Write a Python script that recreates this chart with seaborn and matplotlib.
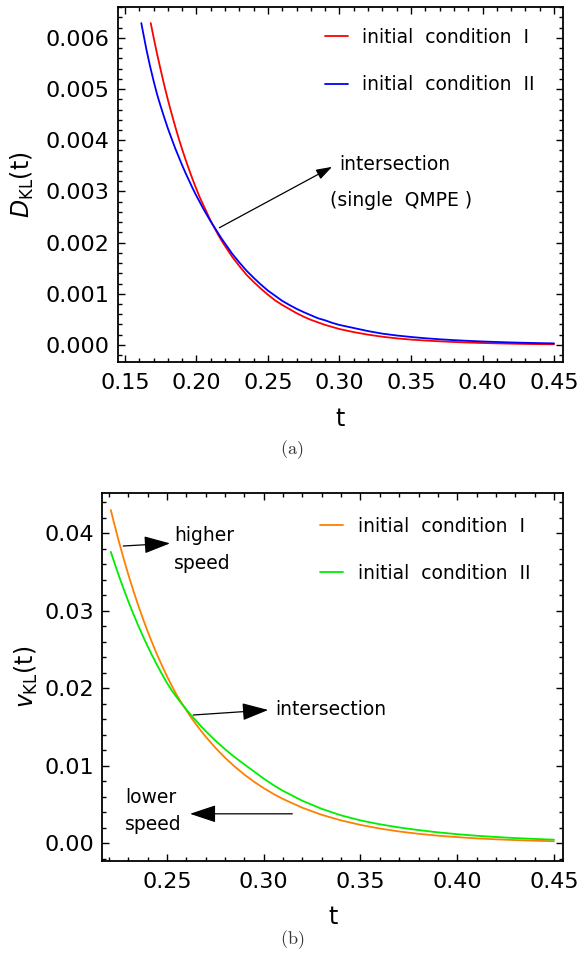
import matplotlib
matplotlib.use("Agg")
import matplotlib.pyplot as plt
import seaborn as sns
import pandas as pd
from matplotlib.ticker import MultipleLocator

# --- dati ---
# pannello (a): D_KL(t)
t_red = [0.168, 0.170, 0.1725, 0.175, 0.1775, 0.180, 0.1825, 0.185, 0.1875, 0.190,
         0.1925, 0.195, 0.1975, 0.200, 0.2025, 0.205, 0.2075, 0.210, 0.2125, 0.215,
         0.2175, 0.220, 0.225, 0.230, 0.235, 0.240, 0.245, 0.250, 0.255, 0.260,
         0.265, 0.270, 0.275, 0.280, 0.285, 0.290, 0.295, 0.300, 0.310, 0.320,
         0.330, 0.340, 0.350, 0.360, 0.370, 0.380, 0.390, 0.400, 0.410, 0.420,
         0.430, 0.440, 0.450]
d_red = [0.00629, 0.00601, 0.00568, 0.00537, 0.00507, 0.00479, 0.00453, 0.00428, 0.00404, 0.00382,
         0.00361, 0.00341, 0.00322, 0.00304, 0.00287, 0.00272, 0.00257, 0.00242, 0.00229, 0.00216,
         0.00204, 0.00193, 0.00172, 0.00154, 0.00137, 0.00123, 0.00110, 0.00098, 0.00087, 0.00078,
         0.00070, 0.00062, 0.00055, 0.00049, 0.00044, 0.00039, 0.00035, 0.00031, 0.00025, 0.00020,
         0.00016, 0.000128, 0.000104, 0.000085, 0.000070, 0.000057, 0.000046, 0.000037, 0.000030, 0.000024,
         0.000019, 0.000015, 0.000012]

t_blue = [0.1614, 0.1625, 0.165, 0.1675, 0.170, 0.1725, 0.175, 0.1775, 0.180, 0.1825,
          0.185, 0.1875, 0.190, 0.1925, 0.195, 0.1975, 0.200, 0.2025, 0.205, 0.2075,
          0.210, 0.2125, 0.215, 0.2175, 0.220, 0.225, 0.230, 0.235, 0.240, 0.245,
          0.250, 0.255, 0.260, 0.265, 0.270, 0.275, 0.280, 0.285, 0.290, 0.295,
          0.300, 0.310, 0.320, 0.330, 0.340, 0.350, 0.360, 0.370, 0.380, 0.390,
          0.400, 0.410, 0.420, 0.430, 0.440, 0.450]
d_blue = [0.00629, 0.00613, 0.00577, 0.00545, 0.00516, 0.00489, 0.00466, 0.00444, 0.00423, 0.00404,
          0.00385, 0.00368, 0.00351, 0.00335, 0.00320, 0.00305, 0.00291, 0.00278, 0.00265, 0.00253,
          0.00241, 0.00230, 0.00219, 0.00208, 0.00198, 0.00178, 0.00161, 0.00145, 0.00131, 0.00118,
          0.00106, 0.00096, 0.00086, 0.00078, 0.000705, 0.00064, 0.00058, 0.00052, 0.00048, 0.00043,
          0.00039, 0.00033, 0.00027, 0.00022, 0.000184, 0.000155, 0.000130, 0.000110, 0.000093, 0.000079,
          0.000067, 0.000057, 0.000048, 0.000041, 0.000035, 0.000030]

# pannello (b): v_KL(t)
t_v = [0.221, 0.2225, 0.225, 0.2275, 0.230, 0.2325, 0.235, 0.2375, 0.240, 0.2425,
       0.245, 0.2475, 0.250, 0.2525, 0.255, 0.2575, 0.260, 0.2625, 0.265, 0.2675,
       0.270, 0.275, 0.280, 0.285, 0.290, 0.295, 0.300, 0.305, 0.310, 0.320,
       0.330, 0.340, 0.350, 0.360, 0.370, 0.380, 0.390, 0.400, 0.410, 0.420,
       0.430, 0.440, 0.450]
v_orange = [0.0430, 0.04149, 0.03910, 0.03684, 0.03471, 0.03271, 0.03082, 0.02904, 0.02736, 0.02578,
            0.02429, 0.02289, 0.02157, 0.02032, 0.01915, 0.01812, 0.01716, 0.01623, 0.01536, 0.01454,
            0.01376, 0.01233, 0.01104, 0.00990, 0.00886, 0.00794, 0.00711, 0.00637, 0.00571, 0.00458,
            0.00367, 0.00295, 0.00237, 0.00190, 0.00152, 0.00122, 0.00098, 0.00079, 0.00063, 0.00051,
            0.00041, 0.00033, 0.00026]
v_green = [0.03760, 0.03646, 0.03463, 0.03290, 0.03124, 0.02968, 0.02819, 0.02678, 0.02543, 0.02416,
           0.02295, 0.02180, 0.02070, 0.01971, 0.01886, 0.01805, 0.01727, 0.01653, 0.01582, 0.01513,
           0.01448, 0.01326, 0.01214, 0.01111, 0.01018, 0.00926, 0.00834, 0.00751, 0.00676, 0.00548,
           0.00444, 0.00360, 0.00295, 0.00245, 0.00204, 0.00170, 0.00141, 0.00117, 0.00097, 0.00081,
           0.00067, 0.00056, 0.00046]

labels = ["initial  condition  I", "initial  condition  II"]

sns.set_theme(style="ticks")
plt.rcParams["font.family"] = ["DejaVu Sans"]
plt.rcParams["mathtext.fontset"] = "dejavusans"
plt.rcParams["text.color"] = "black"
plt.rcParams["axes.labelcolor"] = "black"
plt.rcParams["xtick.color"] = "black"
plt.rcParams["ytick.color"] = "black"

W, H = 580, 965
fig = plt.figure(figsize=(W / 100, H / 100), dpi=100)


def ax_rect(left, top, right, bottom):
    return [left / W, 1 - bottom / H, (right - left) / W, (bottom - top) / H]


ax1 = fig.add_axes(ax_rect(117.7, 6.7, 563.3, 362.3))
ax2 = fig.add_axes(ax_rect(102.3, 493.3, 563.3, 860.7))

df_a = pd.concat([
    pd.DataFrame({"t": t_red, "val": d_red, "cond": labels[0]}),
    pd.DataFrame({"t": t_blue, "val": d_blue, "cond": labels[1]}),
])
df_b = pd.concat([
    pd.DataFrame({"t": t_v, "val": v_orange, "cond": labels[0]}),
    pd.DataFrame({"t": t_v, "val": v_green, "cond": labels[1]}),
])

sns.lineplot(data=df_a, x="t", y="val", hue="cond", palette=["#ff0000", "#0000ff"],
             linewidth=1.3, sort=False, ax=ax1)
sns.lineplot(data=df_b, x="t", y="val", hue="cond", palette=["#ff8000", "#00ee00"],
             linewidth=1.3, sort=False, ax=ax2)

for ax in (ax1, ax2):
    ax.tick_params(which="both", direction="in", top=True, right=True, labelsize=16, width=1.0,
                   color="black")
    ax.tick_params(which="major", length=5)
    ax.tick_params(which="minor", length=3)
    ax.tick_params(axis="x", pad=8)
    ax.tick_params(axis="y", pad=6)
    for s in ax.spines.values():
        s.set_linewidth(1.3)
        s.set_color("black")

ax1.set_xlim(0.1449, 0.4565)
ax1.set_ylim(-0.00034, 0.00661)
ax1.xaxis.set_minor_locator(MultipleLocator(0.01))
ax1.yaxis.set_minor_locator(MultipleLocator(0.0002))
ax1.set_xticks([0.15, 0.20, 0.25, 0.30, 0.35, 0.40, 0.45])
ax1.set_xticklabels(["0.15", "0.20", "0.25", "0.30", "0.35", "0.40", "0.45"])
ax1.set_yticks([0, 0.001, 0.002, 0.003, 0.004, 0.005, 0.006])
ax1.set_yticklabels(["0.000", "0.001", "0.002", "0.003", "0.004", "0.005", "0.006"])

ax2.set_xlim(0.2166, 0.4548)
ax2.set_ylim(-0.00225, 0.04516)
ax2.xaxis.set_minor_locator(MultipleLocator(0.01))
ax2.yaxis.set_minor_locator(MultipleLocator(0.002))
ax2.set_xticks([0.25, 0.30, 0.35, 0.40, 0.45])
ax2.set_xticklabels(["0.25", "0.30", "0.35", "0.40", "0.45"])
ax2.set_yticks([0, 0.01, 0.02, 0.03, 0.04])
ax2.set_yticklabels(["0.00", "0.01", "0.02", "0.03", "0.04"])

ax1.set_xlabel("t", fontsize=17)
ax1.set_ylabel(r"$D_{\mathrm{KL}}\mathrm{(t)}$", fontsize=17)
ax2.set_xlabel("t", fontsize=17)
ax2.set_ylabel(r"$v_{\mathrm{KL}}\mathrm{(t)}$", fontsize=17)
ax1.xaxis.set_label_coords(0.5, -0.125)
ax1.yaxis.set_label_coords(-0.183, 0.5)
ax2.xaxis.set_label_coords(0.5, -0.12)
ax2.yaxis.set_label_coords(-0.135, 0.5)

ax1.legend(loc="upper left", bbox_to_anchor=((325 - 117.7) / 445.6, 0.940), frameon=False,
           fontsize=13.5, handlelength=1.2, handletextpad=0.8, labelspacing=1.5,
           borderpad=0, borderaxespad=0)
ax2.legend(loc="upper left", bbox_to_anchor=((320 - 102.3) / 461, 0.936), frameon=False,
           fontsize=13.5, handlelength=1.2, handletextpad=0.8, labelspacing=1.49,
           borderpad=0, borderaxespad=0)

arrow_small = dict(arrowstyle="-|>,head_length=0.6,head_width=0.2", color="black", lw=0.9,
                   mutation_scale=16, shrinkA=0, shrinkB=0)
arrow_big = dict(arrowstyle="-|>,head_length=0.9,head_width=0.3", color="black", lw=0.9,
                 mutation_scale=18, shrinkA=0, shrinkB=0)

# annotazioni pannello (a)
ax1.annotate("", xy=(0.2948, 0.00348), xytext=(0.216, 0.00229), arrowprops=arrow_small)
ax1.text(0.300, 0.00352, "intersection", fontsize=13.5, va="center", ha="left")
ax1.text(0.2934, 0.00283, "(single  QMPE )", fontsize=13.5, va="center", ha="left")

# annotazioni pannello (b)
ax2.annotate("", xy=(0.2516, 0.0387), xytext=(0.2274, 0.03836), arrowprops=arrow_big)
ax2.text(0.2536, 0.0379, "higher\nspeed", fontsize=13.5, va="center", ha="left", linespacing=1.55)
ax2.annotate("", xy=(0.3023, 0.0172), xytext=(0.2636, 0.01655), arrowprops=arrow_big)
ax2.text(0.3058, 0.0172, "intersection", fontsize=13.5, va="center", ha="left")
ax2.annotate("", xy=(0.2619, 0.0038), xytext=(0.3148, 0.0038), arrowprops=arrow_big)
ax2.text(0.2285, 0.0042, "lower\nspeed", fontsize=13.5, va="center", ha="left", linespacing=1.55)

fig.text(292 / W, 1 - 450 / H, r"$\mathrm{(a)}$", math_fontfamily="cm", fontsize=13,
         ha="center", va="center", color="#333333")
fig.text(292 / W, 1 - 940 / H, r"$\mathrm{(b)}$", math_fontfamily="cm", fontsize=13,
         ha="center", va="center", color="#333333")

fig.savefig("out.png", dpi=100)
